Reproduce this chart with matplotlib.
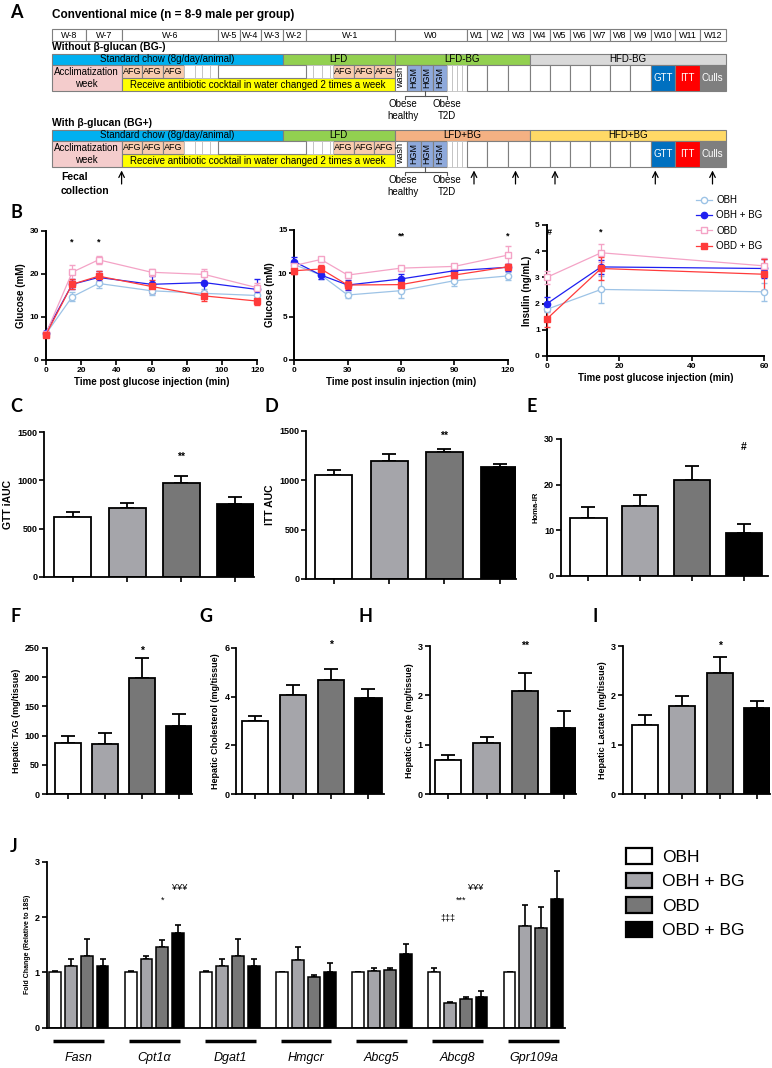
import numpy as np
import matplotlib.pyplot as plt
from matplotlib import font_manager
from matplotlib.patches import Rectangle, Patch
from matplotlib.lines import Line2D

# ---------------- data ----------------
groups = ['OBH', 'OBH + BG', 'OBD', 'OBD + BG']

# panel A schematic text
week_labels = ['W-8', 'W-7', 'W-6', 'W-5', 'W-4', 'W-3', 'W-2', 'W-1', 'W0',
               'W1', 'W2', 'W3', 'W4', 'W5', 'W6', 'W7', 'W8', 'W9', 'W10', 'W11', 'W12']
diet_bg_minus = ['Standard chow (8g/day/animal)', 'LFD', 'LFD-BG', 'HFD-BG']
diet_bg_plus = ['Standard chow (8g/day/animal)', 'LFD', 'LFD+BG', 'HFD+BG']

# panel B
t_gtt = [0, 15, 30, 60, 90, 120]
gtt_mean = [[6.0, 14.7, 17.8, 16.1, 15.5, 15.0],
            [6.3, 17.6, 19.2, 17.6, 18.0, 16.4],
            [6.0, 20.4, 23.3, 20.4, 19.9, 16.8],
            [5.8, 17.6, 19.5, 17.1, 14.9, 13.7]]
gtt_err = [[0.4, 1.0, 1.0, 1.0, 0.9, 1.0],
           [0.4, 1.2, 1.4, 2.0, 2.2, 2.5],
           [0.4, 1.7, 1.0, 0.8, 1.3, 1.0],
           [0.4, 1.2, 1.2, 1.5, 1.2, 0.8]]
t_itt = [0, 15, 30, 60, 90, 120]
itt_mean = [[11.0, 9.8, 7.5, 8.0, 9.15, 9.7],
            [11.35, 9.8, 8.65, 9.35, 10.3, 10.7],
            [10.9, 11.6, 9.8, 10.6, 10.8, 12.1],
            [10.3, 10.5, 8.65, 8.7, 9.8, 10.75]]
itt_err = [[0.4, 0.4, 0.4, 0.8, 0.6, 0.5],
           [0.5, 0.5, 0.6, 0.6, 0.6, 0.4],
           [0.4, 0.3, 0.3, 0.3, 0.3, 1.0],
           [0.4, 0.5, 0.5, 0.4, 0.4, 0.3]]
t_ins = [0, 15, 60]
ins_mean = [[1.78, 2.54, 2.45],
            [1.99, 3.40, 3.34],
            [3.0, 3.94, 3.44],
            [1.41, 3.34, 3.12]]
ins_err = [[0.1, 0.5, 0.35],
           [0.25, 0.28, 0.38],
           [0.25, 0.35, 0.3],
           [0.3, 0.45, 0.6]]

# panels C-I
gtt_iauc = [615, 715, 970, 755];        gtt_iauc_err = [60, 55, 75, 70]
itt_auc = [1055, 1200, 1290, 1135];     itt_auc_err = [50, 65, 25, 30]
homa_ir = [12.7, 15.2, 20.9, 9.3];      homa_ir_err = [2.3, 2.6, 3.1, 2.0]
hep_tag = [87, 86, 198, 116];           hep_tag_err = [13, 18, 35, 21]
hep_chol = [3.0, 4.07, 4.67, 3.95];     hep_chol_err = [0.2, 0.42, 0.45, 0.35]
hep_citrate = [0.7, 1.03, 2.08, 1.35];  hep_citrate_err = [0.1, 0.13, 0.37, 0.33]
hep_lactate = [1.41, 1.78, 2.45, 1.74]; hep_lactate_err = [0.19, 0.2, 0.32, 0.14]

# panel J
genes = ['Fasn', 'Cpt1α', 'Dgat1', 'Hmgcr', 'Abcg5', 'Abcg8', 'Gpr109a']
fold = [[1.0, 1.0, 1.0, 1.0, 1.0, 1.0, 1.0],
        [1.11, 1.25, 1.11, 1.23, 1.03, 0.45, 1.83],
        [1.30, 1.46, 1.30, 0.91, 1.04, 0.51, 1.81],
        [1.11, 1.71, 1.11, 1.00, 1.34, 0.56, 2.33]]
fold_err = [[0.02, 0.02, 0.02, 0.01, 0.01, 0.07, 0.01],
            [0.13, 0.05, 0.13, 0.22, 0.05, 0.02, 0.39],
            [0.30, 0.13, 0.30, 0.04, 0.04, 0.04, 0.37],
            [0.14, 0.14, 0.14, 0.17, 0.17, 0.10, 0.51]]

# ---------------- style ----------------
names = {f.name for f in font_manager.fontManager.ttflist}
NARROW = 'Liberation Sans Narrow' if 'Liberation Sans Narrow' in names else 'Liberation Sans'
plt.rcParams['font.family'] = ['Liberation Sans', 'DejaVu Sans']

line_cols = ['#9DC3E6', '#1F1FF0', '#F4A3C6', '#FF3B3B']
markers = ['o', 'o', 's', 's']
mfaces = ['white', '#1F1FF0', 'white', '#FF3B3B']
bar_cols = ['white', '#A5A5AA', '#777777', 'black']

W, H = 772, 1068
fig = plt.figure(figsize=(W / 100, H / 100), dpi=100)


def px_axes(x0, x1, ytop, ybot):
    return fig.add_axes([x0 / W, 1 - ybot / H, (x1 - x0) / W, (ybot - ytop) / H])


def prism(ax, lw=1.3):
    for s in ['top', 'right']:
        ax.spines[s].set_visible(False)
    for s in ['left', 'bottom']:
        ax.spines[s].set_linewidth(lw)
    ax.tick_params(direction='out', length=3.5, width=1.2, labelsize=6.5, pad=1.5)
    for lab in ax.get_yticklabels() + ax.get_xticklabels():
        lab.set_fontweight('bold')


def panel_label(x, y, s):
    fig.text(x / W, 1 - y / H, s, fontsize=13, fontweight='bold', family='Lato',
             ha='left', va='center')


# ---------------- panel A ----------------
axA = fig.add_axes([0, 1 - 200 / H, 1, 200 / H])
axA.set_xlim(0, W)
axA.set_ylim(200, 0)
axA.axis('off')
edges = [51.7, 86.2, 121.7, 218.3, 240, 261, 282.7, 305.7, 394.7, 466.7, 487.3,
         508.3, 530, 550, 570, 590, 610, 630, 650.7, 675, 700, 725.5]
border = '#7F7F7F'


def cell(x0, x1, y0, y1, fc='white', ec=border, lw=0.8, txt=None, tc='black', size=6.5, rot=0, bold=False):
    axA.add_patch(Rectangle((x0, y0), x1 - x0, y1 - y0, facecolor=fc, edgecolor=ec, lw=lw))
    if txt:
        axA.text((x0 + x1) / 2, (y0 + y1) / 2, txt, ha='center', va='center', fontsize=size,
                 color=tc, rotation=rot, family=NARROW, fontweight='bold' if bold else 'normal',
                 linespacing=1.2)


panel_label(10, 12, 'A')
axA.text(52, 15, 'Conventional mice (n = 8-9 male per group)', fontsize=8.5, fontweight='bold',
         family=NARROW, va='center')
for i, lab in enumerate(week_labels):
    cell(edges[i], edges[i + 1], 29.3, 40.7, txt=lab)

diet_cols_minus = ['#00B0F0', '#92D050', '#92D050', '#D9D9D9']
diet_cols_plus = ['#00B0F0', '#92D050', '#F4B183', '#FFD966']
diet_span = [(0, 6), (6, 8), (8, 12), (12, 21)]
fecal_x = [121.6, 474, 515.5, 555, 655.3, 712.5]

for gi, (title, diets, dcols) in enumerate([('Without β-glucan (BG-)', diet_bg_minus, diet_cols_minus),
                                             ('With β-glucan (BG+)', diet_bg_plus, diet_cols_plus)]):
    off = 76 * gi
    yb0, yb1 = 53.5 + off, 65 + off
    yr0, yr1 = 65 + off, 91 + off
    ym = (yr0 + yr1) / 2
    axA.text(52, 47 + off, title, fontsize=7.5, fontweight='bold', family=NARROW, va='center')
    for (a, b), d, c in zip(diet_span, diets, dcols):
        cell(edges[a], edges[b], yb0, yb1, fc=c, txt=d, size=7)
    cell(edges[0], edges[2], yr0, yr1, fc='#F4CCCC', txt='Acclimatization\nweek', size=7)
    cell(edges[2], edges[8], ym, yr1, fc='#FFFF00',
         txt='Receive antibiotic cocktail in water changed 2 times a week', size=7)
    for x0, x1 in [(121.7, 142.3), (142.3, 163), (163, 184), (333.3, 353.6), (353.6, 374), (374, 394.7)]:
        cell(x0, x1, yr0, ym, fc='#F8CBAD', txt='AFG', size=6.5)
    for x0, x1 in [(184, 195), (195, 202), (202, 210), (210, 218.3), (305.7, 313.3), (313.3, 321.7),
                   (321.7, 330), (330, 333.3)]:
        cell(x0, x1, yr0, ym, ec='#BFBFBF', lw=0.6)
    cell(218.3, 305.7, yr0, ym)
    cell(394.7, 407.3, yr0, yr1, txt='wash', rot=90, size=6.5)
    for x0, x1 in [(407.3, 420.7), (420.7, 433.3), (433.3, 446.7)]:
        cell(x0, x1, yr0, yr1, fc='#8EA9DB', txt='HGM', rot=90, size=6.5)
    for x0, x1 in [(446.7, 451.7), (451.7, 456.7), (456.7, 461.7), (461.7, 466.7)]:
        cell(x0, x1, yr0, yr1, ec='#BFBFBF', lw=0.6)
    for i in range(9, 18):
        cell(edges[i], edges[i + 1], yr0, yr1)
    for i, (lab, c) in zip(range(18, 21), [('GTT', '#0070C0'), ('ITT', '#FF0000'), ('Culls', '#7F7F7F')]):
        cell(edges[i], edges[i + 1], yr0, yr1, fc=c, txt=lab, tc='white', size=7)
    # bracket
    yb = 95.5 + off
    axA.plot([405, 405, 446.7, 446.7], [yb + 3, yb, yb, yb + 3], color='#555555', lw=0.8)
    axA.plot([425, 425], [yr1, yb], color='#555555', lw=0.8)
    axA.text(402.7, 110 + off, 'Obese\nhealthy', ha='center', va='center', fontsize=7, family=NARROW,
             linespacing=1.3)
    axA.text(447, 110 + off, 'Obese\nT2D', ha='center', va='center', fontsize=7, family=NARROW,
             linespacing=1.3)

axA.text(61, 184, 'Fecal\ncollection', fontsize=7.5, fontweight='bold', family=NARROW, va='center',
         linespacing=1.4)
for x in fecal_x:
    axA.annotate('', xy=(x, 170.5), xytext=(x, 184),
                 arrowprops=dict(arrowstyle='->', lw=0.9, color='black', shrinkA=0, shrinkB=0))

# ---------------- panel B ----------------
panel_label(10, 213, 'B')


def line_panel(rect, t, means, errs, xlim, xticks, ylim, yticks, ylabel, xlabel, stars):
    ax = px_axes(*rect)
    for m, e, c, mk, mf in zip(means, errs, line_cols, markers, mfaces):
        ax.errorbar(t, m, yerr=e, color=c, marker=mk, mfc=mf, mec=c, ms=4.5, mew=1.0, lw=0.9,
                    elinewidth=0.9, capsize=2.2, capthick=0.9, clip_on=False, zorder=3)
    ax.set_xlim(*xlim)
    ax.set_ylim(*ylim)
    ax.set_xticks(xticks)
    ax.set_yticks(yticks)
    ax.set_ylabel(ylabel, fontsize=7, fontweight='bold', labelpad=2)
    ax.set_xlabel(xlabel, fontsize=7, fontweight='bold', labelpad=2)
    prism(ax, lw=1.4)
    ax.tick_params(labelsize=6)
    for x, y, s in stars:
        ax.text(x, y, s, ha='center', va='center', fontsize=6.5, fontweight='bold')
    return ax


line_panel((45.7, 257.3, 231, 360), t_gtt, gtt_mean, gtt_err, (0, 120), range(0, 121, 20),
           (0, 30), range(0, 31, 10), 'Glucose (mM)', 'Time post glucose injection (min)',
           [(15, 27.4, '*'), (30, 27.4, '*')])
line_panel((294.3, 507.7, 230, 360), t_itt, itt_mean, itt_err, (0, 120), range(0, 121, 30),
           (0, 15), range(0, 16, 5), 'Glucose (mM)', 'Time post insulin injection (min)',
           [(60, 14.3, '**'), (120, 14.3, '*')])
line_panel((546.7, 764.3, 225, 356), t_ins, ins_mean, ins_err, (0, 60), range(0, 61, 20),
           (0, 5), range(0, 6), 'Insulin (ng/mL)', 'Time post glucose injection (min)',
           [(0.8, 4.72, '#'), (15, 4.72, '*')])

handles = [Line2D([], [], color=c, marker=mk, mfc=mf, mec=c, ms=4.5, lw=0.9)
           for c, mk, mf in zip(line_cols, markers, mfaces)]
fig.legend(handles, groups, loc='upper left', bbox_to_anchor=(696 / W, 1 - 195 / H), frameon=False,
           fontsize=7, handlelength=1.6, handletextpad=0.5, labelspacing=0.55, borderaxespad=0,
           borderpad=0)

# ---------------- panels C-I ----------------


def bar_panel(rect, xl, xr, width, vals, errs, ylim, yticks, ylabel, stars, ylsize=6.5):
    ax = px_axes(*rect)
    x = np.arange(4)
    ax.errorbar(x, vals, yerr=[np.zeros(4), errs], fmt='none', ecolor='black', elinewidth=1.3,
                capsize=5, capthick=1.3, zorder=1)
    ax.bar(x, vals, width=width, color=bar_cols, edgecolor='black', linewidth=1.3, zorder=2)
    ax.set_xlim(xl, xr)
    ax.set_ylim(*ylim)
    ax.set_yticks(yticks)
    ax.set_xticks(x)
    ax.set_xticklabels([])
    ax.set_ylabel(ylabel, fontsize=ylsize, fontweight='bold', labelpad=3)
    prism(ax)
    for xi, y, s in stars:
        ax.text(xi, y, s, ha='center', va='center', fontsize=7.5, fontweight='bold')
    return ax


panel_label(10, 407, 'C')
panel_label(264, 407, 'D')
panel_label(527, 407, 'E')
bar_panel((44.3, 253.6, 432.3, 576.7), -0.529, 3.338, 0.684, gtt_iauc, gtt_iauc_err, (0, 1500),
          [0, 500, 1000, 1500], 'GTT iAUC', [(2, 1250, '**')], ylsize=7.5)
bar_panel((306.3, 515.5, 431, 579), -0.497, 3.284, 0.67, itt_auc, itt_auc_err, (0, 1500),
          [0, 500, 1000, 1500], 'ITT AUC', [(2, 1455, '**')], ylsize=7.5)
bar_panel((561, 768, 439, 575.7), -0.53, 3.47, 0.70, homa_ir, homa_ir_err, (0, 30),
          [0, 10, 20, 30], 'Homa-IR', [(3, 28.3, '#')], ylsize=5.5)

panel_label(10, 617, 'F')
panel_label(199, 617, 'G')
panel_label(358, 617, 'H')
panel_label(592, 617, 'I')
bar_panel((46.8, 192, 647.7, 794.3), -0.56, 3.36, 0.70, hep_tag, hep_tag_err, (0, 250),
          range(0, 251, 50), 'Hepatic TAG (mg/tissue)', [(2, 245, '*')])
bar_panel((236.3, 384, 647.7, 794.3), -0.49, 3.41, 0.69, hep_chol, hep_chol_err, (0, 6),
          [0, 2, 4, 6], 'Hepatic Cholesterol (mg/tissue)', [(2, 6.1, '*')])
bar_panel((429.8, 576, 646, 794.3), -0.47, 3.32, 0.68, hep_citrate, hep_citrate_err, (0, 3),
          [0, 1, 2, 3], 'Hepatic Citrate (mg/tissue)', [(2, 3.0, '**')])
bar_panel((622.8, 770, 646, 794.3), -0.59, 3.34, 0.70, hep_lactate, hep_lactate_err, (0, 3),
          [0, 1, 2, 3], 'Hepatic Lactate (mg/tissue)', [(2, 3.0, '*')])

# ---------------- panel J ----------------
panel_label(10, 847, 'J')
axJ = px_axes(46.8, 565, 861.7, 1027.7)
gx = np.arange(len(genes))
step, bw = 0.21, 0.157
for k in range(4):
    xs = gx + (k - 1.5) * step
    axJ.errorbar(xs, fold[k], yerr=[np.zeros(len(genes)), fold_err[k]], fmt='none', ecolor='black',
                 elinewidth=1.2, capsize=2.5, capthick=1.2, zorder=1)
    axJ.bar(xs, fold[k], width=bw, color=bar_cols[k], edgecolor='black', linewidth=1.1, zorder=2)
axJ.set_xlim(-0.42, 6.417)
axJ.set_ylim(0, 3)
axJ.set_yticks([0, 1, 2, 3])
axJ.set_xticks([])
axJ.set_ylabel('Fold Change (Relative to 18S)', fontsize=5, fontweight='bold', labelpad=3)
prism(axJ)
trJ = axJ.get_xaxis_transform()
for g, name in zip(gx, genes):
    axJ.plot([g - 0.335, g + 0.335], [-0.078, -0.078], color='black', lw=2.5, transform=trJ,
             clip_on=False, solid_capstyle='butt')
    axJ.text(g, -0.18, name, transform=trJ, ha='center', va='center', fontsize=9, style='italic',
             family=NARROW)
for x, y, s in [(1.105, 2.3, '*'), (1.33, 2.54, '¥¥¥'), (4.87, 1.98, '‡‡‡'), (5.05, 2.3, '***'),
                (5.24, 2.54, '¥¥¥')]:
    axJ.text(x, y, s, ha='center', va='center', fontsize=6.5)

jh = [Patch(facecolor=c, edgecolor='black', lw=1.6) for c in bar_cols]
fig.legend(jh, groups, loc='upper left', bbox_to_anchor=(626 / W, 1 - 848 / H), frameon=False,
           fontsize=12.5, handlelength=1.5, handleheight=1.0, handletextpad=0.6, labelspacing=0.45,
           borderaxespad=0, borderpad=0, prop={'family': NARROW, 'size': 12.5})

fig.savefig('out.png', dpi=100)
